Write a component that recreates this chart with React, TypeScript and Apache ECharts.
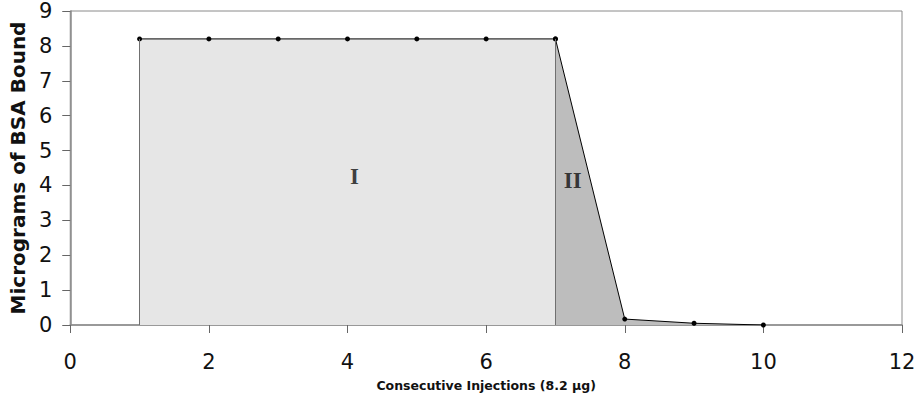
import React, { useEffect, useRef } from "react";
import * as echarts from "echarts";

const injections = [1, 2, 3, 4, 5, 6, 7, 8, 9, 10];
const bsaBound = [8.2, 8.2, 8.2, 8.2, 8.2, 8.2, 8.2, 0.17, 0.05, 0.0];
const regionBoundaries = [1, 7];
const regionLabels = ["I", "II"];
const regionLabelX = [4.1, 7.25];
const regionLabelY = [4.25, 4.15];
const xTicks = [0, 2, 4, 6, 8, 10, 12];
const yTicks = [0, 1, 2, 3, 4, 5, 6, 7, 8, 9];

export default function App() {
  const ref = useRef<HTMLDivElement>(null);
  useEffect(() => {
    if (!ref.current) return;
    const chart = echarts.init(ref.current, undefined, { renderer: "svg" });
    const pts = injections.map((x, i) => [x, bsaBound[i]]);
    const regionI = pts.filter((p) => p[0] <= regionBoundaries[1]);
    const regionII = pts.filter((p) => p[0] >= regionBoundaries[1]);
    const boundaryTop = (x: number) => bsaBound[injections.indexOf(x)];
    chart.setOption({
      animation: false,
      backgroundColor: "#ffffff",
      grid: {
        left: 69,
        right: 19,
        top: 11,
        bottom: 76,
        show: true,
        borderColor: "#8a8a8a",
        borderWidth: 1,
        backgroundColor: "transparent",
      },
      xAxis: {
        type: "value",
        min: xTicks[0],
        max: xTicks[xTicks.length - 1],
        interval: 2,
        name: "Consecutive Injections (8.2 µg)",
        nameLocation: "middle",
        nameGap: 54,
        nameTextStyle: {
          fontFamily: "DejaVu Sans",
          fontWeight: "bold",
          fontSize: 12.5,
          color: "#111",
        },
        axisLine: { show: true, lineStyle: { color: "#8a8a8a", width: 1.5 } },
        axisTick: { show: true, length: 8, lineStyle: { color: "#666" } },
        axisLabel: {
          margin: 26,
          fontFamily: "DejaVu Sans",
          fontSize: 21,
          color: "#111",
        },
        splitLine: { show: false },
      },
      yAxis: {
        type: "value",
        min: yTicks[0],
        max: yTicks[yTicks.length - 1],
        interval: 1,
        name: "Micrograms of BSA Bound",
        nameLocation: "middle",
        nameGap: 40,
        nameRotate: 90,
        nameTextStyle: {
          fontFamily: "DejaVu Sans",
          fontWeight: "bold",
          fontSize: 20,
          color: "#111",
        },
        axisLine: { show: true, lineStyle: { color: "#8a8a8a", width: 1.5 } },
        axisTick: { show: true, length: 8, lineStyle: { color: "#666" } },
        axisLabel: {
          margin: 18,
          fontFamily: "DejaVu Sans",
          fontSize: 21,
          color: "#111",
        },
        splitLine: { show: false },
      },
      series: [
        {
          type: "line",
          data: regionI,
          symbol: "circle",
          symbolSize: 5,
          itemStyle: { color: "#000" },
          lineStyle: { color: "#000", width: 1 },
          areaStyle: { color: "#e6e6e6", opacity: 1 },
          z: 2,
          markLine: {
            silent: true,
            symbol: "none",
            label: { show: false },
            lineStyle: { color: "#707070", width: 1, type: "solid" },
            data: regionBoundaries.map((x) => [
              { coord: [x, 0] },
              { coord: [x, boundaryTop(x)] },
            ]),
          },
        },
        {
          type: "line",
          data: regionII,
          symbol: "circle",
          symbolSize: 5,
          itemStyle: { color: "#000" },
          lineStyle: { color: "#000", width: 1 },
          areaStyle: { color: "#bdbdbd", opacity: 1 },
          z: 2,
        },
        {
          type: "scatter",
          symbolSize: 0,
          silent: true,
          z: 5,
          data: regionLabels.map((t, i) => [regionLabelX[i], regionLabelY[i], t]),
          label: {
            show: true,
            position: "inside",
            formatter: (p: any) => p.value[2],
            fontFamily: "Liberation Serif",
            fontWeight: "bold",
            fontSize: 23,
            color: "#111",
          },
        },
      ],
    });
    return () => chart.dispose();
  }, []);
  return <div ref={ref} style={{ width: 921, height: 401, position: "absolute", left: 0, top: 0 }} />;
}
